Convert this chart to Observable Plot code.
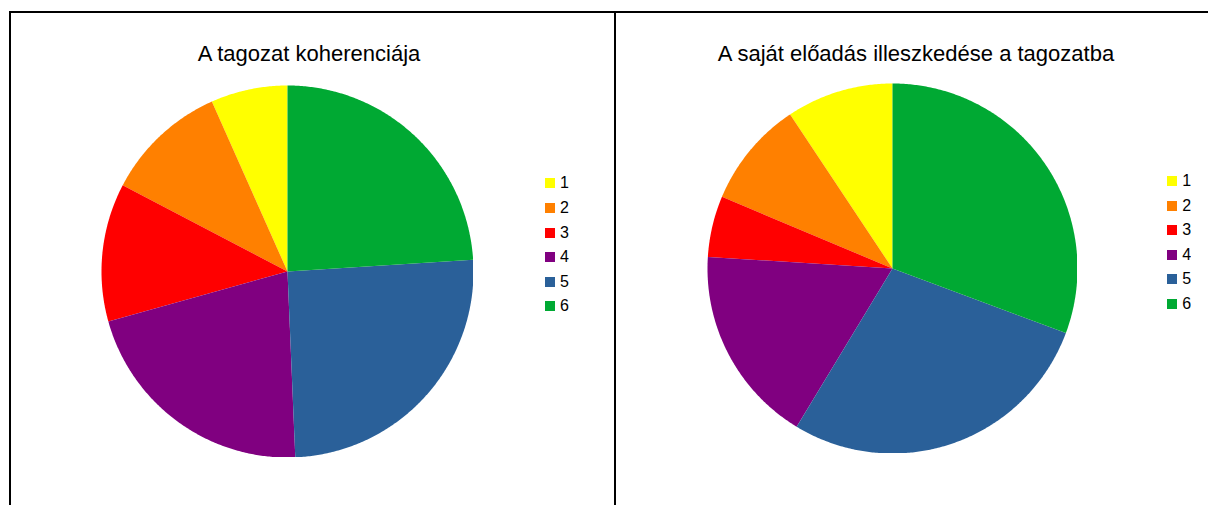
<!DOCTYPE html>
<html><head><meta charset="utf-8">
<script src="https://cdn.jsdelivr.net/npm/d3@7"></script>
<script src="https://cdn.jsdelivr.net/npm/@observablehq/plot@0.6"></script>
<style>
html,body{margin:0;padding:0;background:#fff;}
#root{position:relative;width:1208px;height:505px;overflow:hidden;font-family:"Liberation Sans",Arial,sans-serif;}
.frame{position:absolute;left:9px;top:11px;width:1400px;height:600px;border-top:2px solid #000;border-left:2px solid #000;}
.divider{position:absolute;left:614px;top:11px;width:2px;height:600px;background:#000;}
.title{position:absolute;width:600px;text-align:center;font-size:22px;line-height:22px;color:#000;white-space:nowrap;}
.pie{position:absolute;}
.pie svg{display:block;}
.leg{position:absolute;}
.leg, .leg *{font-family:"Liberation Sans",Arial,sans-serif !important;font-size:16px !important;color:#000 !important;}
.leg .lg-swatches{margin:0 !important;}
.leg .lg-swatch{height:24.6px;padding:0 !important;margin:0 !important;}
.leg .lg-swatch svg{margin-right:5px !important;}
</style></head><body><div id="root"></div>
<script>
const categories = ["1","2","3","4","5","6"];
const colors = ["#FFFF00","#FF8000","#FF0000","#800080","#2A6099","#00A933"];
const coherenceValues = [5,8,9,16,19,18];
const fitValues = [7,7,4,13,21,23];
const titles = ["A tagozat koherenciája","A saját előadás illeszkedése a tagozatba"];

const root = document.getElementById("root");
function el(cls, css){const d=document.createElement("div");d.className=cls;Object.assign(d.style,css||{});root.appendChild(d);return d;}
el("frame"); el("divider");

function slicePoints(values){
  const arcs = d3.pie().sort(null).startAngle(0).endAngle(-2*Math.PI)(values);
  const pts=[];
  arcs.forEach((a,i)=>{
    const cat=categories[i];
    pts.push({cat,x:0,y:0});
    const span=a.endAngle-a.startAngle;
    const n=Math.max(2,Math.ceil(Math.abs(span)/(Math.PI/360)));
    for(let k=0;k<=n;k++){const t=a.startAngle+span*k/n;pts.push({cat,x:Math.sin(t),y:Math.cos(t)});}
    pts.push({cat,x:0,y:0});
  });
  return pts;
}

function panel(values, title, cx, cy, r, titleLeft, legLeft, legTop){
  const t=el("title",{left:titleLeft+"px",top:"43.4px"}); t.textContent=title;
  const pie=Plot.plot({
    width:2*r,height:2*r,margin:0,
    x:{domain:[-1,1],axis:null},
    y:{domain:[-1,1],axis:null},
    color:{domain:categories,range:colors},
    marks:[Plot.line(slicePoints(values),{x:"x",y:"y",z:"cat",fill:"cat",stroke:"none"})]
  });
  const p=el("pie",{left:(cx-r)+"px",top:(cy-r)+"px"}); p.appendChild(pie);
  const lg=Plot.legend({color:{domain:categories,range:colors},legend:"swatches",columns:1,swatchSize:10,className:"lg"});
  const l=el("leg",{left:legLeft+"px",top:legTop+"px"}); l.appendChild(lg);
}
panel(coherenceValues,titles[0],286.7,271.2,186,9,545,171.2);
panel(fitValues,titles[1],892.3,268,185,616,1167.3,168.7);
</script></body></html>
